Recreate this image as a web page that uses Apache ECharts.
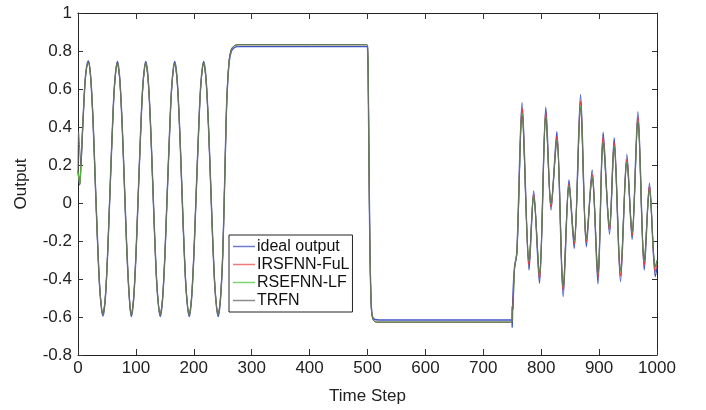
<!DOCTYPE html>
<html>
<head>
<meta charset="utf-8">
<script src="https://cdn.jsdelivr.net/npm/echarts@6/dist/echarts.min.js"></script>
<style>
html,body{margin:0;padding:0;background:#fff;}
#chart{width:706px;height:410px;}
</style>
</head>
<body>
<div id="chart"></div>
<script>
// ---- Data ----
const seriesNames = ['ideal output', 'IRSFNN-FuL', 'RSEFNN-LF', 'TRFN'];
const xTicks = [0,100,200,300,400,500,600,700,800,900,1000];
const yTicks = [-0.8,-0.6,-0.4,-0.2,0,0.2,0.4,0.6,0.8,1];

// segment 1: sinusoidal input (time steps 0-242)
const stepsSine = [0,1,3,5,8,12,15,18,22,26,30,34,38,43,
  47,51,55,59,63,68,72,76,80,84,88,92,
  96,100,104,108,112,117,121,125,129,133,137,142,
  146,150,154,158,162,167,171,175,179,183,187,192,
  196,200,204,208,212,217,221,225,229,233,237,242];
const idealSine = [0.17,0.14,0.095,0.2,0.39,0.63,0.72,0.748,0.66,0.43,0.10,-0.22,-0.47,-0.595,
  -0.51,-0.28,0.04,0.36,0.62,0.745,0.66,0.43,0.11,-0.22,-0.47,-0.598,
  -0.51,-0.28,0.04,0.36,0.62,0.745,0.66,0.43,0.11,-0.22,-0.47,-0.598,
  -0.51,-0.28,0.04,0.36,0.62,0.745,0.66,0.43,0.11,-0.22,-0.47,-0.598,
  -0.51,-0.28,0.04,0.36,0.62,0.745,0.66,0.43,0.11,-0.22,-0.47,-0.598];
const modelSine = [0.17,0.14,0.1,0.2,0.39,0.63,0.715,0.742,0.655,0.43,0.10,-0.22,-0.465,-0.588,
  -0.505,-0.28,0.04,0.355,0.615,0.737,0.655,0.43,0.11,-0.22,-0.465,-0.59,
  -0.505,-0.28,0.04,0.355,0.615,0.737,0.655,0.43,0.11,-0.22,-0.465,-0.59,
  -0.505,-0.28,0.04,0.355,0.615,0.737,0.655,0.43,0.11,-0.22,-0.465,-0.59,
  -0.505,-0.28,0.04,0.355,0.615,0.737,0.655,0.43,0.11,-0.22,-0.465,-0.59];
const trfnStart = [0.17,0.375,0.28,0.2];

// segments 2-3: step inputs (time steps 246-749)
const stepsStep = [246,250,254,257,261,265,270,276,290,350,420,480,495,499,500,501,502,504,506,508,512,520,600,700,745,749];
const idealStep = [-0.51,-0.27,0.2,0.54,0.74,0.8,0.818,0.823,0.823,0.823,0.823,0.823,0.823,0.823,0.82,0.7,0.4,-0.2,-0.5,-0.59,-0.613,-0.616,-0.616,-0.616,-0.616,-0.616];
const modelStep = [-0.505,-0.27,0.2,0.54,0.75,0.81,0.828,0.833,0.833,0.833,0.833,0.833,0.833,0.833,0.83,0.71,0.42,-0.2,-0.5,-0.595,-0.623,-0.627,-0.627,-0.627,-0.627,-0.627];

// segment 4: mixed sinusoid input (time steps 750-1000)
const stepsMix = [750,751,754,758,767,779,787,797,808,817,827,838,848,857,868,878,888,898,907,918,926,937,948,957,967,978,987,997,1000];
const idealMix = [-0.655,-0.5,-0.335,-0.26,0.528,-0.353,0.063,-0.423,0.504,-0.037,0.375,-0.493,0.121,-0.239,0.57,-0.23,0.174,-0.425,0.372,-0.165,0.344,-0.414,0.256,-0.191,0.481,-0.353,0.104,-0.388,-0.34];
const irsfnnMix = [-0.56,-0.55,-0.34,-0.26,0.498,-0.325,0.045,-0.395,0.475,-0.02,0.35,-0.458,0.1,-0.215,0.535,-0.205,0.15,-0.39,0.345,-0.14,0.318,-0.385,0.23,-0.17,0.45,-0.325,0.085,-0.36,-0.32];
const rsefnnMix = [-0.545,-0.56,-0.34,-0.26,0.47,-0.305,0.035,-0.375,0.455,-0.005,0.33,-0.44,0.09,-0.2,0.51,-0.19,0.135,-0.37,0.32,-0.125,0.3,-0.36,0.215,-0.155,0.43,-0.305,0.07,-0.34,-0.3];
const trfnMix = [-0.545,-0.56,-0.345,-0.27,0.46,-0.3,0.03,-0.37,0.45,0,0.325,-0.435,0.085,-0.195,0.5,-0.185,0.13,-0.365,0.315,-0.12,0.295,-0.355,0.21,-0.15,0.425,-0.3,0.065,-0.335,-0.3];

// ---- Build series data ----
function pairs(xs, ys){ return xs.map((x,i)=>[x, ys[i]]); }
function build(sine, step, mix){
  return pairs(stepsSine, sine).concat(pairs(stepsStep, step), pairs(stepsMix, mix));
}
const trfnSine = trfnStart.concat(modelSine.slice(trfnStart.length));
const dataSets = [
  build(idealSine, idealStep, idealMix),
  build(modelSine, modelStep, irsfnnMix),
  build(modelSine, modelStep, rsefnnMix),
  build(trfnSine, modelStep, trfnMix)
];
const colors = ['#3d55c4', '#e8383c', '#3cc23c', '#6a6a6a'];
const legendColors = ['#6a7ccf', '#f07a7a', '#78d66a', '#8c8c8c'];

const FONT = '"Liberation Sans", Arial, sans-serif';
const chart = echarts.init(document.getElementById('chart'), null, {renderer:'canvas'});
const grid = {left:78, right:49, top:13, bottom:55};
const fmtY = v => String(Math.round(v*10)/10);
const fmtX = v => String(Math.round(v));

chart.setOption({
  animation:false,
  backgroundColor:'#fff',
  grid: grid,
  legend:{
    data: seriesNames.map((n,i)=>({name:n, icon:'rect', itemStyle:{color:legendColors[i], borderWidth:0}})),
    orient:'vertical',
    left:229, top:235,
    padding:[3,3,3,4],
    itemGap:1,
    itemWidth:22,
    itemHeight:1.5,
    backgroundColor:'#fff',
    borderColor:'#222',
    borderWidth:1,
    borderRadius:0,
    textStyle:{fontFamily:FONT, fontSize:16, lineHeight:17, color:'#111', padding:[0,0,0,-3]}
  },
  xAxis:[{
    type:'value', min:0, max:1000, interval:100,
    name:'Time Step', nameLocation:'middle', nameGap:33,
    nameTextStyle:{fontFamily:FONT, fontSize:17, color:'#222'},
    axisLine:{show:true, onZero:false, lineStyle:{color:'#222', width:1}},
    axisTick:{show:true, inside:true, length:6, lineStyle:{color:'#333'}},
    axisLabel:{fontFamily:FONT, fontSize:17, color:'#222', margin:5, formatter:fmtX},
    splitLine:{show:false}
  },{
    type:'value', min:0, max:1000, interval:100, position:'top',
    axisLine:{show:true, onZero:false, lineStyle:{color:'#222', width:1}},
    axisTick:{show:true, inside:true, length:6, lineStyle:{color:'#333'}},
    axisLabel:{show:false}, splitLine:{show:false}
  }],
  yAxis:[{
    type:'value', min:-0.8, max:1, interval:0.2,
    name:'Output', nameLocation:'middle', nameGap:48,
    nameTextStyle:{fontFamily:FONT, fontSize:17, color:'#222'},
    axisLine:{show:true, onZero:false, lineStyle:{color:'#222', width:1}},
    axisTick:{show:true, inside:true, length:5, lineStyle:{color:'#333'}},
    axisLabel:{fontFamily:FONT, fontSize:17, color:'#222', margin:6, formatter:fmtY},
    splitLine:{show:false}
  },{
    type:'value', min:-0.8, max:1, interval:0.2, position:'right',
    axisLine:{show:true, onZero:false, lineStyle:{color:'#222', width:1}},
    axisTick:{show:true, inside:true, length:5, lineStyle:{color:'#333'}},
    axisLabel:{show:false}, splitLine:{show:false}
  }],
  series: seriesNames.map((n,i)=>({
    name:n, type:'line', data:dataSets[i],
    xAxisIndex:0, yAxisIndex:0,
    showSymbol:false, symbol:'none', smooth:0.3,
    lineStyle:{color:colors[i], width: i===0 ? 1.4 : 1},
    itemStyle:{color:colors[i]},
    z: 2+i
  }))
});
</script>
</body>
</html>
